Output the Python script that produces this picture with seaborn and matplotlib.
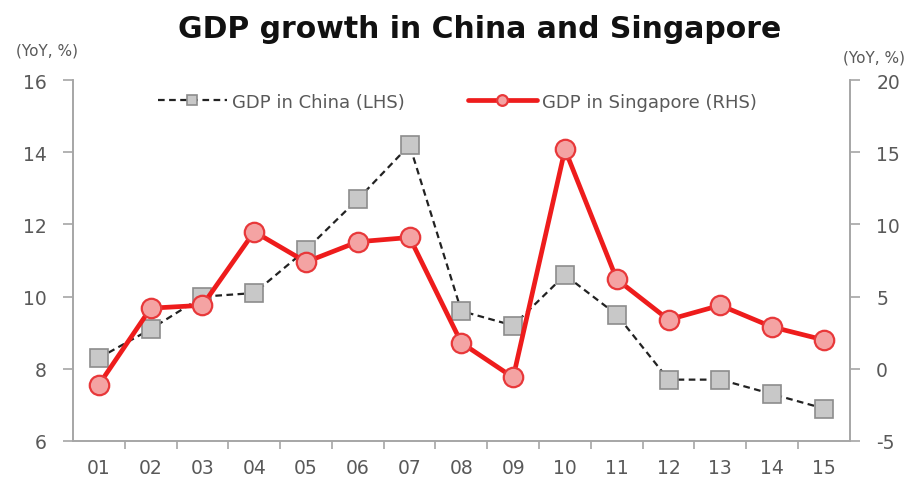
import matplotlib
matplotlib.use("Agg")
import matplotlib.pyplot as plt
import seaborn as sns
import pandas as pd
import numpy as np
from matplotlib.ticker import FixedLocator

years = ["01", "02", "03", "04", "05", "06", "07", "08", "09", "10", "11", "12", "13", "14", "15"]
china_gdp = [8.3, 9.1, 10.0, 10.1, 11.3, 12.7, 14.2, 9.6, 9.2, 10.6, 9.5, 7.7, 7.7, 7.3, 6.9]
singapore_gdp = [-1.1, 4.2, 4.4, 9.5, 7.4, 8.8, 9.1, 1.8, -0.6, 15.2, 6.2, 3.4, 4.4, 2.9, 2.0]
left_ticks = [6, 8, 10, 12, 14, 16]
right_ticks = [-5, 0, 5, 10, 15, 20]

sns.set_theme(style="white")
plt.rcParams['font.family'] = ['DejaVu Sans']
plt.rcParams['axes.unicode_minus'] = False

df = pd.DataFrame({"year": years, "pos": np.arange(len(years)),
                   "china": china_gdp, "sg": singapore_gdp})

fig = plt.figure(figsize=(9.16, 4.85), dpi=100)
ax = fig.add_axes([0.0797, 0.0887, 0.848, 0.744])
ax2 = ax.twinx()

grey_txt = "#595959"
spine_c = "#A6A6A6"

sns.lineplot(data=df, x="pos", y="china", ax=ax, color="#222222", linestyle=(0, (3, 2)),
             linewidth=1.6, marker="s", markersize=13, markerfacecolor="#C8C8C8",
             markeredgecolor="#8C8C8C", markeredgewidth=1.2, label="GDP in China (LHS)",
             legend=False, zorder=3)
sns.lineplot(data=df, x="pos", y="sg", ax=ax2, color="#EE1C1C", linewidth=3.4,
             marker="o", markersize=14, markerfacecolor="#F4A3A3",
             markeredgecolor="#E8383A", markeredgewidth=1.6, label="GDP in Singapore (RHS)",
             legend=False, zorder=4)

ax.set_xlim(-0.5, len(years) - 0.5)
ax.set_ylim(6, 16)
ax2.set_ylim(-5, 20)
ax.set_yticks(left_ticks)
ax2.set_yticks(right_ticks)
ax.set_xticks(df["pos"])
ax.set_xticklabels(years)
ax.xaxis.set_minor_locator(FixedLocator(np.arange(0.5, len(years) - 0.5, 1.0)))
ax.set_xlabel("")
ax.set_ylabel("")
ax2.set_ylabel("")

for a in (ax, ax2):
    a.grid(False)
    a.spines['top'].set_visible(False)
    for s in ('left', 'right', 'bottom'):
        a.spines[s].set_color(spine_c)
        a.spines[s].set_linewidth(1.2)

ax.tick_params(axis='x', which='major', length=0, pad=12, labelsize=13.5, labelcolor=grey_txt)
ax.tick_params(axis='x', which='minor', length=6, width=1.2, color=spine_c, direction='out', bottom=True)
ax.tick_params(axis='y', length=7, width=1.2, color=spine_c, direction='out', labelsize=13.5,
               labelcolor=grey_txt, pad=12)
ax2.tick_params(axis='y', length=7, width=1.2, color=spine_c, direction='out', labelsize=13.5,
                labelcolor=grey_txt, pad=12)

fig.text(0.524, 0.94, "GDP growth in China and Singapore", ha="center", va="center",
         fontsize=21.5, fontweight="bold", color="#111111")
fig.text(0.018, 0.895, "(YoY, %)", ha="left", va="center", fontsize=11, color=grey_txt)
fig.text(0.988, 0.88, "(YoY, %)", ha="right", va="center", fontsize=11, color=grey_txt)

h1, l1 = ax.get_legend_handles_labels()
h2, l2 = ax2.get_legend_handles_labels()
leg = ax.legend(h1 + h2, l1 + l2, loc="upper center", bbox_to_anchor=(0.495, 1.01), ncol=2,
                frameon=False, fontsize=13, columnspacing=3.5, handlelength=3.8,
                handletextpad=0.3, markerscale=0.55)
for t in leg.get_texts():
    t.set_color(grey_txt)

fig.savefig("out.png", dpi=100)
